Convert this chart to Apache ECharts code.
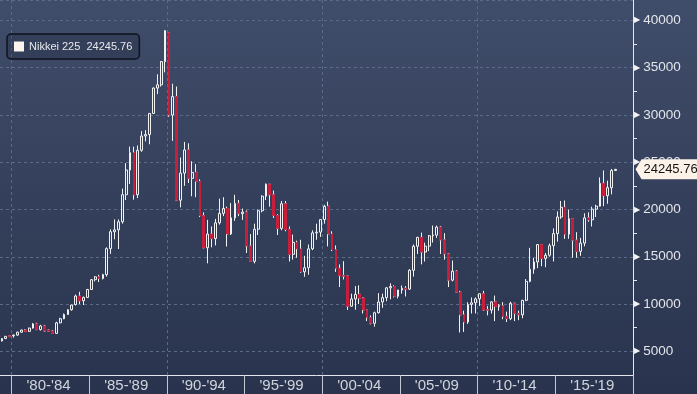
<!DOCTYPE html>
<html><head><meta charset="utf-8">
<script src="https://cdn.jsdelivr.net/npm/echarts@6/dist/echarts.min.js"></script>
<style>html,body{margin:0;padding:0;background:#2c3752}#c{width:697px;height:394px}</style>
</head><body><div id="c"></div>
<script>
// Quarterly candles, 1979 Q2 .. 2018 Q4 ; axis runs to 2019 Q4
const firstYear = 1979, firstQuarter = 2, lastAxisYear = 2019;
const seriesName = 'Nikkei 225';
const opens = [
6100,6350,6650,
6650,6720,7030,7250, 7116,7460,7900,7300, 7682,7260,7150,6900, 8017,8450,8900,9400, 9950,10850,10350,10700,
11543,12580,12880,12700, 13113,15860,17650,17850, 18701,21566,24176,26010, 21564,26260,27769,27923, 30159,32839,33183,35637,
38712,29980,31940,20984, 23849,26292,23291,23916, 22984,19346,15952,17399, 16925,18591,19590,20106, 17417,19112,20644,19564,
19723,16140,14517,17913, 19868,21407,22667,21556, 19361,18003,20605,17888, 15259,16527,15830,13406, 13842,15837,17530,17605,
18934,20337,17411,15747, 13786,12999,12969,9775, 10543,11025,10622,9383, 8579,7973,9083,10219, 10677,11715,11858,10824,
11489,11669,11584,13574, 16111,17060,15505,16128, 17226,17288,18138,16786, 15308,12526,13481,11260, 8860,8110,9958,10133,
10546,11090,9383,9369, 10229,9755,9816,8700, 8455,10084,9007,8870, 10395,12398,13677,14456, 16291,14828,15162,16174,
17451,19207,20236,17388, 19034,16759,15576,16450, 19114,18909,20033,20356, 22765,21454,22305,24120
];
const highs = [
6400,6620,6700,
6780,7080,7300,7330, 7500,8000,8019,7800, 7800,7300,7260,8134, 8550,9000,9450,9950, 11000,11300,10800,11600,
12650,12950,13100,13200, 16000,17900,18950,18950, 22200,24900,26650,26646, 26770,28300,28400,30200, 32900,34300,35700,38957,
38712,33300,33000,25500, 27146,27000,25100,24800, 23200,19700,18900,18200, 19000,21148,21300,20300, 20677,21552,21000,20100,
19900,17400,18500,20000, 21500,22750,22700,22000, 19500,20900,20900,18200, 17350,16700,16800,15100, 16300,17800,18500,18950,
20500,20833,17700,16200, 14200,14529,13000,11100, 11900,11980,10700,9400, 8800,9200,11160,11100, 11800,12195,11990,11500,
11970,11900,13700,16300, 17100,17563,16500,17300, 18300,18300,18262,17500, 15400,14600,13600,11400, 9300,10200,10700,10700,
11100,11400,9800,10300, 10900,10000,10200,9200, 10250,10150,9300,10450, 12650,15942,14900,16320, 16300,15400,16400,18000,
19800,20900,20950,20000, 19100,17600,17000,19600, 19700,20300,20500,23400, 24129,23050,24286,24286
];
const lows = [
6050,6300,6500,
6450,6650,6950,7050, 7050,7400,7250,7200, 7050,7050,6850,6850, 7950,8400,8850,9300, 9850,10000,9900,10650,
11500,12400,12330,12600, 12900,15300,16850,15820, 18500,21000,22700,21036, 21200,26100,27200,26900, 30100,32200,33000,34500,
29800,27250,20900,20221, 22500,22800,21400,21300, 19200,15900,14309,16000, 16200,18400,19300,16078, 17300,18800,19300,18900,
15400,14485,14300,17300, 19700,21000,20300,19100, 17300,17800,17700,14500, 14700,14900,13300,12880, 13100,15700,16800,17100,
18500,16100,15600,13400, 11800,12600,9380,9750, 9400,10000,9000,8200, 7850,7608,9000,9600, 10300,10500,10700,10600,
11100,10800,11500,12900, 15300,14200,14500,15600, 16500,17000,15300,14700, 11800,12400,11200,6995, 7055,7900,9000,9000,
9800,9300,8800,9000, 8200,9300,8400,8100, 8300,8200,8300,8500, 10300,12300,13200,13800, 14000,13900,15000,14500,
16600,19000,16900,16900, 14900,14900,15100,16100, 18700,18200,19200,20300, 20350,20600,21600,24100
];
const closes = [
6350,6590,6569,
6720,7030,7250,7116, 7460,7900,7300,7682, 7150,7130,6900,8017, 8450,8900,9400,9894, 10850,10350,10700,11543,
12580,12880,12700,13113, 15860,17650,17850,18701, 21566,24176,26010,21564, 26260,27769,27923,30159, 32839,33183,35637,38916,
29980,31940,20984,23849, 26292,23291,23916,22984, 19346,15952,17399,16925, 18591,19590,20106,17417, 19112,20644,19564,19723,
16140,14517,17913,19868, 21407,22667,21556,19361, 18003,20605,17888,15259, 16527,15830,13406,13842, 15837,17530,17605,18934,
20337,17411,15747,13786, 12999,12969,9775,10543, 11025,10622,9383,8579, 7973,9083,10219,10677, 11715,11858,10824,11489,
11669,11584,13574,16111, 17060,15505,16128,17226, 17288,18138,16786,15308, 12526,13481,11260,8860, 8110,9958,10133,10546,
11090,9383,9369,10229, 9755,9816,8700,8455, 10084,9007,8870,10395, 12398,13677,14456,16291, 14828,15162,16174,17451,
19207,20236,17388,19034, 16759,15576,16450,19114, 18909,20033,20356,22765, 21454,22305,24120,24245.76
];
const yMin = 2500, yMax = 42150, yLabelStep = 5000;

// categories
const categories = [];
for (let y = firstYear; y <= lastAxisYear; y++) {
  for (let q = (y === firstYear ? firstQuarter : 1); q <= 4; q++) categories.push(y + ' Q' + q);
}
const yr = v => parseInt(v, 10);
const qt = v => parseInt(v.split('Q')[1], 10);

const lastClose = closes[closes.length - 1];
const mainData = [], wickData = [];
for (let i = 0; i < categories.length; i++) {
  if (i >= closes.length) { mainData.push('-'); wickData.push('-'); continue; }
  const o = opens[i], c = closes[i], l = lows[i], h = highs[i];
  if (c >= o) { mainData.push([o, c, l, h]); wickData.push('-'); }
  else { mainData.push([o, c, c, o]); wickData.push([o, c, l, h]); }
}

const RED = '#c81e3c', WHITE = '#f2f2f2', GRID = '#5b6a88';
const chart = echarts.init(document.getElementById('c'), null, {renderer: 'canvas'});
chart.setOption({
  animation: false,
  backgroundColor: {type: 'linear', x: 0, y: 0, x2: 0, y2: 1,
    colorStops: [{offset: 0, color: '#404d6a'}, {offset: 1, color: '#29334d'}]},
  grid: {left: -0.5, right: 64, top: 0, bottom: 19},
  legend: {
    left: 7, top: 34, padding: [7, 7, 7, 7], itemWidth: 10, itemHeight: 10,
    backgroundColor: 'rgba(25,32,50,0.25)', borderColor: '#0e121c', borderWidth: 1.5, borderRadius: 4,
    selectedMode: false,
    textStyle: {color: '#e8e8ea', fontSize: 11, fontFamily: 'Liberation Sans'},
    formatter: n => n + '  ' + lastClose.toFixed(2),
    data: [{name: seriesName, icon: 'rect', itemStyle: {color: '#fff3ee', borderWidth: 0}}]
  },
  xAxis: {
    type: 'category', data: categories, boundaryGap: true,
    axisLine: {lineStyle: {color: '#e6e8ee', width: 1}},
    axisTick: {show: true, length: 19, interval: (i, v) => yr(v) % 5 === 0 && qt(v) === 1,
      lineStyle: {color: '#c3c8d2'}},
    axisLabel: {interval: (i, v) => yr(v) % 5 === 2 && qt(v) === 2,
      formatter: v => { const g = yr(v) - yr(v) % 5; return "'" + String(g).slice(2) + "-'" + String(g + 4).slice(2); },
      color: '#d0d4dc', fontSize: 15, margin: 3, fontFamily: 'Liberation Sans'},
    splitLine: {show: true, interval: (i, v) => yr(v) % 10 === 0 && qt(v) === 1,
      lineStyle: {color: GRID, type: [3, 3]}}
  },
  yAxis: {
    type: 'value', position: 'right', min: yMin, max: yMax, splitNumber: 8, scale: true,
    axisLine: {show: true, lineStyle: {color: '#e6e8ee'}},
    axisTick: {show: false},
    minorTick: {show: true, splitNumber: 2, length: 4, lineStyle: {color: '#e6e8ee'}},
    axisLabel: {showMinLabel: false, showMaxLabel: false, margin: 1,
      formatter: v => (v % yLabelStep === 0 ? '{t|\u25B6}{v|' + v + '}' : ''),
      rich: {
        t: {fontSize: 8, color: '#f4f4f4', fontFamily: 'DejaVu Sans', padding: [0, 3, 0, 0]},
        v: {fontSize: 13.5, color: '#e2e5ea', fontFamily: 'Liberation Sans'}
      }},
    splitLine: {show: true, lineStyle: {color: GRID, type: [3, 3]}}
  },
  series: [
    {
      name: 'wicks', type: 'candlestick', data: wickData, barWidth: 2.3, z: 2,
      itemStyle: {color: 'rgba(0,0,0,0)', color0: RED, borderColor: WHITE, borderColor0: WHITE, borderWidth: 1},
      silent: true
    },
    {
      name: seriesName, type: 'candlestick', data: mainData, barWidth: 2.3, z: 3,
      itemStyle: {color: 'rgba(0,0,0,0)', color0: RED, borderColor: WHITE, borderColor0: RED, borderWidth: 1},
      silent: true,
      markPoint: {
        silent: true,
        symbol: 'path://M0,10L6,0L70,0L70,20L6,20Z', symbolSize: [70, 20], symbolKeepAspect: false,
        symbolOffset: [39.5, 0],
        itemStyle: {color: '#fdf2e7'},
        label: {show: true, position: 'inside', formatter: () => lastClose.toFixed(2),
          color: '#151515', fontSize: 13, fontFamily: 'Liberation Sans'},
        data: [{coord: [categories[categories.length - 1], lastClose]}]
      }
    }
  ]
});
</script></body></html>
